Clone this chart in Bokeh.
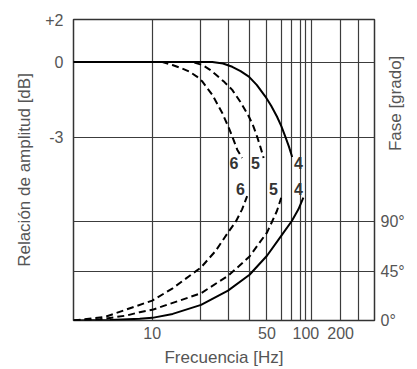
import math
from bokeh.plotting import figure
from bokeh.models import Range1d, LinearAxis, FixedTicker, Grid
from bokeh.core.properties import value
from bokeh.embed import file_html
from bokeh.resources import INLINE

# ---------------- data ----------------
# amplitude ratio curves: frequency [Hz] -> dB
amp4_hz = [3.19, 23.9, 27.9, 31.9, 36.0, 40.6, 45.5, 51.6, 56.1, 61.0, 65.0, 68.8, 72.6, 76.1]
amp4_db = [0, 0, -0.06, -0.19, -0.36, -0.58, -0.91, -1.375, -1.74, -2.17, -2.55, -2.96, -3.37, -3.78]
amp5_hz = [3.19, 17.9, 20.7, 23.0, 25.1, 28.5, 31.9, 36.0, 40.6, 43.3, 45.7, 48.0, 50.3]
amp5_db = [0, 0, -0.12, -0.30, -0.50, -0.80, -1.11, -1.60, -2.17, -2.55, -2.96, -3.38, -3.82]
amp6_hz = [3.19, 11.6, 13.4, 15.2, 17.1, 19.0, 20.7, 23.9, 27.6, 30.4, 31.9, 34.3, 36.8]
amp6_db = [0, 0, -0.12, -0.24, -0.38, -0.57, -0.78, -1.31, -2.03, -2.63, -2.96, -3.49, -3.82]

# phase curves: frequency [Hz] -> degrees
ph4_hz = [3.19, 5.41, 8.33, 10.0, 13.45, 20.3, 30.0, 41.0, 52.8, 64.9, 75.7, 83.3, 89.5]
ph4_deg = [0, 0.5, 1.6, 2.4, 6.0, 14.2, 27.2, 41.6, 58.9, 77.0, 90.5, 101.1, 111.7]
ph5_hz = [3.19, 4.69, 6.88, 8.33, 10.0, 20.3, 30.0, 35.1, 41.0, 52.8, 56.7, 61.0, 64.9]
ph5_deg = [0, 1.1, 4.5, 7.6, 9.7, 24.8, 40.7, 49.3, 58.3, 80.0, 89.6, 99.6, 111.7]
ph6_hz = [3.19, 5.0, 7.56, 10.0, 13.45, 20.3, 25.1, 30.0, 33.5, 36.8, 39.6]
ph6_deg = [0, 3.1, 12.1, 18.1, 29.3, 48.3, 63.4, 80.0, 89.6, 101.1, 113.2]

# curve number labels
num_text = ["6", "5", "4", "6", "5", "4"]
num_hz = [32.7, 44.7, 83.3, 36.0, 58.1, 83.3]
num_db = [-4.02, -4.02, -4.02, -5.07, -5.07, -5.07]

# axes (as drawn)
x_lo, x_hi = 3.19, 251.2
db_lo, db_hi = -10.29, 1.692
deg_lo, deg_hi = 0, 273.8
x_grid_hz = [10, 20.2, 30.1, 41, 52.8, 64.9, 75.9, 85.8, 92.8, 100, 153.6, 198.4]
x_tick_hz = [10, 52.8, 92.8, 153.6]
x_tick_labels = ["10", "50", "100", "200"]
db_ticks = [1.692, 0, -3]
db_tick_labels = ["+2", "0", "-3"]
db_grid = [0, -3]
deg_ticks = [0, 45, 90]
deg_tick_labels = ["0°", "45°", "90°"]
deg_grid = [45, 90]

FONT = "Liberation Sans"
TXT = "#555555"
GRID = "#3c3c3c"

p = figure(width=417, height=369, x_axis_type="log",
           x_range=Range1d(x_lo, x_hi), y_range=Range1d(db_lo, db_hi),
           output_backend="svg", toolbar_location=None,
           min_border_left=73, min_border_right=40, min_border_top=19, min_border_bottom=47)
p.extra_y_ranges = {"phase": Range1d(deg_lo, deg_hi)}

p.outline_line_color = "#333333"
p.outline_line_width = 1.5
p.background_fill_color = "white"
p.border_fill_color = "white"

# grids
p.xgrid.ticker = FixedTicker(ticks=x_grid_hz)
p.xgrid.grid_line_color = GRID
p.xgrid.grid_line_width = 1.2
p.ygrid.ticker = FixedTicker(ticks=db_grid)
p.ygrid.grid_line_color = GRID
p.ygrid.grid_line_width = 1.2
pg = Grid(dimension=1, ticker=FixedTicker(ticks=deg_grid), y_range_name="phase",
          grid_line_color=GRID, grid_line_width=1.2)
p.add_layout(pg)

def style_axis(ax):
    ax.axis_line_color = None
    ax.major_tick_line_color = None
    ax.minor_tick_line_color = None
    ax.major_tick_out = 0
    ax.major_tick_in = 0
    ax.minor_tick_out = 0
    ax.minor_tick_in = 0
    ax.major_label_text_font = FONT
    ax.major_label_text_font_size = "16px"
    ax.major_label_text_color = TXT
    ax.axis_label_text_font = FONT
    ax.axis_label_text_font_size = "17px"
    ax.axis_label_text_font_style = "normal"
    ax.axis_label_text_color = TXT

xa = p.xaxis[0]
xa.ticker = FixedTicker(ticks=x_tick_hz)
xa.major_label_overrides = {t: l for t, l in zip(x_tick_hz, x_tick_labels)}
xa.axis_label = "Frecuencia [Hz]"
xa.major_label_standoff = 6
xa.axis_label_standoff = 6
style_axis(xa)

ya = p.yaxis[0]
ya.ticker = FixedTicker(ticks=db_ticks)
ya.major_label_overrides = {t: l for t, l in zip(db_ticks, db_tick_labels)}
ya.axis_label = "Relación de amplitud [dB]"
ya.major_label_standoff = 10
ya.axis_label_standoff = 8
style_axis(ya)

# right axis: its title sits in the upper part of the axis, as in the original
ra = LinearAxis(y_range_name="phase", ticker=FixedTicker(ticks=deg_ticks))
ra.major_label_overrides = {t: l for t, l in zip(deg_ticks, deg_tick_labels)}
ra.major_label_standoff = 6
ra.axis_label = "\u00a0" * 4 + "Fase [grado]"
ra.axis_label_standoff = -12
ra.axis_label_orientation = math.pi / 2
style_axis(ra)
p.add_layout(ra, "right")

# amplitude curves
p.line(amp4_hz, amp4_db, line_color="black", line_width=2)
p.line(amp5_hz, amp5_db, line_color="black", line_width=2, line_dash="7 4")
p.line(amp6_hz, amp6_db, line_color="black", line_width=2, line_dash="7 4")

# phase curves
p.line(ph4_hz, ph4_deg, line_color="black", line_width=2, y_range_name="phase")
p.line(ph5_hz, ph5_deg, line_color="black", line_width=2, line_dash="7 4", y_range_name="phase")
p.line(ph6_hz, ph6_deg, line_color="black", line_width=2, line_dash="7 4", y_range_name="phase")

p.text(x=num_hz, y=num_db, text=num_text, text_font=value(FONT), text_font_style="bold",
       text_font_size="16px", text_color="#333333", text_align="center", text_baseline="middle")

html = file_html(p, INLINE)
html = html.replace("</head>", "<style>html,body{overflow:hidden}</style></head>", 1)
open("out.html", "w").write(html)
